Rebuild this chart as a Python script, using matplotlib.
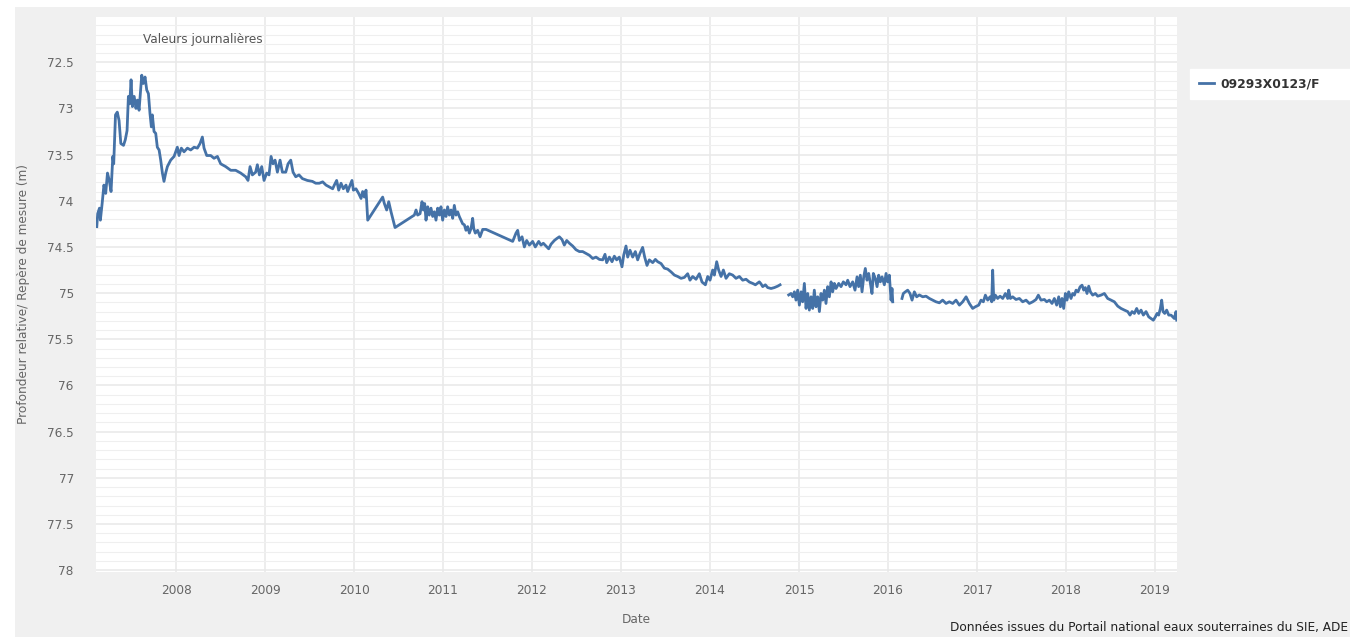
import numpy as np
import matplotlib
matplotlib.use('Agg')
import matplotlib.pyplot as plt
from matplotlib import ticker
from matplotlib.patches import Rectangle
from matplotlib.lines import Line2D

# Serie 1 : 2007 -> fin 2014 (avant la lacune)
annees_1 = [2007.11, 2007.12, 2007.14, 2007.15, 2007.17, 2007.19, 2007.21, 2007.23, 2007.25, 2007.27,
            2007.29, 2007.30, 2007.32, 2007.34, 2007.36, 2007.38, 2007.41, 2007.43, 2007.45, 2007.465,
            2007.48, 2007.495, 2007.51, 2007.53, 2007.55, 2007.566, 2007.585, 2007.603, 2007.615, 2007.633,
            2007.652, 2007.671, 2007.69, 2007.708, 2007.723, 2007.734, 2007.753, 2007.772, 2007.79, 2007.81,
            2007.828, 2007.847, 2007.865, 2007.884, 2007.903, 2007.94, 2007.978, 2008.015, 2008.034, 2008.06,
            2008.09, 2008.128, 2008.165, 2008.203, 2008.24, 2008.27, 2008.296, 2008.315, 2008.345, 2008.39,
            2008.427, 2008.465, 2008.502, 2008.558, 2008.615, 2008.67, 2008.727, 2008.783, 2008.809, 2008.832,
            2008.858, 2008.895, 2008.914, 2008.937, 2008.963, 2008.989, 2009.019, 2009.045, 2009.068, 2009.09,
            2009.113, 2009.139, 2009.169, 2009.195, 2009.233, 2009.259, 2009.289, 2009.315, 2009.345, 2009.382,
            2009.42, 2009.476, 2009.532, 2009.57,
            2009.61, 2009.648, 2009.685, 2009.723, 2009.76, 2009.779, 2009.805, 2009.828, 2009.854, 2009.88,
            2009.91, 2009.929, 2009.948, 2009.977, 2009.993, 2010.022, 2010.052, 2010.079, 2010.097, 2010.116,
            2010.135, 2010.154, 2010.322, 2010.341, 2010.367, 2010.39, 2010.416, 2010.461, 2010.678, 2010.697,
            2010.715, 2010.742, 2010.764, 2010.779, 2010.794, 2010.809, 2010.828, 2010.846, 2010.865, 2010.884,
            2010.903, 2010.921, 2010.94, 2010.959, 2010.977, 2010.996, 2011.015, 2011.034, 2011.052, 2011.071,
            2011.09, 2011.109, 2011.127, 2011.146, 2011.165, 2011.183, 2011.202, 2011.221, 2011.24, 2011.258,
            2011.277, 2011.296, 2011.315, 2011.333, 2011.345, 2011.363, 2011.389, 2011.416, 2011.446, 2011.483,
            2011.783, 2011.82, 2011.839, 2011.858, 2011.888, 2011.914, 2011.94, 2011.97, 2012.007, 2012.037,
            2012.075, 2012.101, 2012.127, 2012.157, 2012.187, 2012.214, 2012.251, 2012.277, 2012.307, 2012.337,
            2012.363, 2012.39, 2012.42, 2012.457, 2012.494, 2012.532, 2012.569, 2012.607, 2012.644, 2012.682,
            2012.719, 2012.757, 2012.794, 2012.82, 2012.839, 2012.869, 2012.899, 2012.925, 2012.951, 2012.981,
            2013.011, 2013.03, 2013.056, 2013.075, 2013.101, 2013.131, 2013.161, 2013.187, 2013.213, 2013.243,
            2013.266, 2013.292, 2013.318, 2013.356, 2013.386, 2013.412, 2013.45, 2013.487, 2013.524, 2013.562,
            2013.6, 2013.637, 2013.674, 2013.712, 2013.749, 2013.775, 2013.805, 2013.843, 2013.88, 2013.91,
            2013.948, 2013.974, 2014.0, 2014.03, 2014.049, 2014.075, 2014.097, 2014.124, 2014.15, 2014.18,
            2014.217, 2014.255, 2014.292, 2014.33, 2014.367, 2014.405, 2014.442, 2014.48, 2014.51,
            2014.554, 2014.573, 2014.592, 2014.622, 2014.648, 2014.686, 2014.723, 2014.76, 2014.787]
profondeur_1 = [74.28, 74.14, 74.08, 74.21, 74.03, 73.83, 73.92, 73.70, 73.78, 73.90,
                73.52, 73.60, 73.07, 73.04, 73.13, 73.38, 73.40, 73.34, 73.24, 72.87,
                72.95, 72.69, 72.98, 72.87, 73.00, 72.91, 73.02, 72.80, 72.64, 72.73,
                72.66, 72.80, 72.84, 73.06, 73.20, 73.07, 73.25, 73.27, 73.42, 73.45,
                73.56, 73.70, 73.79, 73.70, 73.63, 73.56, 73.52, 73.42, 73.51, 73.43,
                73.47, 73.43, 73.45, 73.42, 73.43, 73.38, 73.31, 73.43, 73.51, 73.51,
                73.54, 73.52, 73.60, 73.63, 73.67, 73.67, 73.70, 73.74, 73.78, 73.63,
                73.72, 73.69, 73.61, 73.72, 73.63, 73.78, 73.70, 73.72, 73.52, 73.60,
                73.56, 73.69, 73.56, 73.69, 73.69, 73.60, 73.56, 73.69, 73.74, 73.72,
                73.76, 73.78, 73.79, 73.81,
                73.81, 73.795, 73.83, 73.85, 73.87, 73.83, 73.78, 73.885, 73.81, 73.87,
                73.83, 73.90, 73.85, 73.78, 73.885, 73.87, 73.92, 73.975, 73.90, 73.96,
                73.885, 74.21, 73.96, 74.03, 74.10, 74.01, 74.12, 74.29, 74.155, 74.10,
                74.155, 74.14, 74.01, 74.10, 74.03, 74.21, 74.065, 74.155, 74.08, 74.17,
                74.12, 74.21, 74.08, 74.155, 74.065, 74.21, 74.10, 74.17, 74.065, 74.155,
                74.10, 74.19, 74.05, 74.155, 74.12, 74.17, 74.21, 74.25, 74.26, 74.32,
                74.28, 74.35, 74.30, 74.19, 74.30, 74.35, 74.32, 74.39, 74.31, 74.31,
                74.44, 74.35, 74.32, 74.43, 74.39, 74.50, 74.43, 74.48, 74.44, 74.50,
                74.44, 74.48, 74.46, 74.49, 74.52, 74.47, 74.43, 74.41, 74.39, 74.42,
                74.48, 74.43, 74.46, 74.49, 74.53, 74.55, 74.55, 74.57, 74.59, 74.625,
                74.61, 74.635, 74.64, 74.58, 74.67, 74.61, 74.66, 74.60, 74.64, 74.61,
                74.715, 74.59, 74.49, 74.61, 74.535, 74.61, 74.55, 74.64, 74.57, 74.505,
                74.61, 74.70, 74.64, 74.67, 74.635, 74.66, 74.68, 74.73, 74.74, 74.77,
                74.805, 74.82, 74.84, 74.83, 74.79, 74.86, 74.82, 74.85, 74.79, 74.88,
                74.91, 74.82, 74.86, 74.75, 74.805, 74.66, 74.75, 74.82, 74.75, 74.84,
                74.79, 74.805, 74.84, 74.82, 74.86, 74.85, 74.88, 74.895, 74.91,
                74.878, 74.90, 74.93, 74.91, 74.94, 74.95, 74.94, 74.925, 74.91]

# Serie 2 : fin 2014 -> debut 2016
annees_2 = [2014.884, 2014.91, 2014.929, 2014.948, 2014.966, 2014.985, 2015.004, 2015.023, 2015.041, 2015.06,
            2015.079, 2015.098, 2015.116, 2015.135, 2015.154, 2015.172, 2015.191, 2015.21, 2015.229, 2015.247,
            2015.266, 2015.285, 2015.303, 2015.322, 2015.341, 2015.36, 2015.378, 2015.397, 2015.416, 2015.446,
            2015.472, 2015.498, 2015.528, 2015.547, 2015.573, 2015.603, 2015.629, 2015.652, 2015.67, 2015.689,
            2015.708, 2015.727, 2015.745, 2015.764, 2015.783, 2015.802, 2015.82, 2015.835, 2015.858, 2015.877,
            2015.895, 2015.914, 2015.933, 2015.959, 2015.978, 2015.996, 2016.015, 2016.034, 2016.045, 2016.053]
profondeur_2 = [75.02, 75.004, 75.04, 74.986, 75.076, 74.968, 75.13, 74.986, 75.094, 74.895,
                75.166, 75.004, 75.184, 75.04, 75.166, 74.968, 75.148, 75.04, 75.20, 75.004,
                75.076, 74.968, 75.112, 74.93, 75.04, 74.878, 74.986, 74.895, 74.95, 74.895,
                74.93, 74.878, 74.91, 74.86, 74.93, 74.878, 74.968, 74.824, 74.93, 74.806,
                74.986, 74.824, 74.733, 74.86, 74.787, 74.895, 75.004, 74.787, 74.842, 74.93,
                74.806, 74.878, 74.824, 74.91, 74.787, 74.878, 74.806, 75.076, 74.95, 75.094]

# Serie 3 : 2016 -> 2019
annees_3 = [2016.157, 2016.172, 2016.195, 2016.221, 2016.247, 2016.27, 2016.296, 2016.322, 2016.352, 2016.39,
            2016.427, 2016.465, 2016.502, 2016.539, 2016.577, 2016.614, 2016.652, 2016.689, 2016.727, 2016.764,
            2016.802, 2016.839, 2016.877, 2016.914, 2016.951, 2016.981,
            2017.019, 2017.045, 2017.071, 2017.094, 2017.12, 2017.146, 2017.165, 2017.176, 2017.188, 2017.206,
            2017.232, 2017.259, 2017.289, 2017.319, 2017.345, 2017.356, 2017.375, 2017.401, 2017.438, 2017.476,
            2017.513, 2017.551, 2017.588, 2017.626, 2017.663, 2017.689, 2017.719, 2017.757, 2017.783, 2017.813,
            2017.843, 2017.869, 2017.895, 2017.918, 2017.937, 2017.955, 2017.974, 2017.993, 2018.011, 2018.03,
            2018.056, 2018.075, 2018.094, 2018.113, 2018.135, 2018.158, 2018.18, 2018.199, 2018.217, 2018.236,
            2018.255, 2018.274, 2018.3, 2018.33, 2018.356, 2018.393, 2018.431, 2018.468, 2018.506, 2018.543,
            2018.581, 2018.618, 2018.656, 2018.693, 2018.719, 2018.742, 2018.768, 2018.794, 2018.817, 2018.843,
            2018.869, 2018.899, 2018.929, 2018.955, 2018.981, 2019.004, 2019.023, 2019.041, 2019.06, 2019.075,
            2019.09, 2019.109, 2019.131, 2019.154, 2019.18, 2019.199, 2019.217, 2019.236, 2019.244]
profondeur_3 = [75.058, 75.004, 74.986, 74.968, 75.004, 75.076, 74.986, 75.04, 75.02, 75.04,
                75.033, 75.058, 75.076, 75.094, 75.105, 75.076, 75.112, 75.094, 75.112, 75.076,
                75.13, 75.094, 75.04, 75.112, 75.166, 75.148,
                75.13, 75.076, 75.094, 75.022, 75.076, 75.04, 75.094, 74.751, 75.076, 75.022,
                75.058, 75.033, 75.058, 75.004, 75.058, 74.968, 75.058, 75.04, 75.069, 75.058,
                75.094, 75.076, 75.112, 75.094, 75.069, 75.022, 75.076, 75.069, 75.094, 75.076,
                75.112, 75.058, 75.13, 75.04, 75.148, 75.058, 75.166, 75.004, 75.076, 74.986,
                75.058, 75.004, 75.022, 74.968, 74.986, 74.932, 74.914, 74.968, 74.94, 75.004,
                74.925, 74.986, 75.022, 75.004, 75.033, 75.022, 75.004, 75.058, 75.076, 75.094,
                75.141, 75.166, 75.184, 75.20, 75.238, 75.20, 75.22, 75.166, 75.22, 75.184,
                75.238, 75.20, 75.257, 75.275, 75.293, 75.257, 75.22, 75.238, 75.166, 75.076,
                75.20, 75.22, 75.184, 75.238, 75.238, 75.257, 75.275, 75.20, 75.293]

annees_ticks = list(range(2008, 2020))
prof_ticks = [72.5, 73, 73.5, 74, 74.5, 75, 75.5, 76, 76.5, 77, 77.5, 78]

nom_station = '09293X0123/F'
couleur = '#4572A7'

fig = plt.figure(figsize=(13.5, 6.37), dpi=100, facecolor='white')
# fond gris du cadre (derriere les axes)
fond = Rectangle((15 / 1350, 0), 1 - 15 / 1350, 1 - 7 / 637,
                 transform=fig.transFigure, facecolor='#f0f0f0', edgecolor='none', zorder=-10)
fig.add_artist(fond)

ax = fig.add_axes([96 / 1350, 1 - 572 / 637, (1177 - 96) / 1350, (572 - 17) / 637])
ax.set_zorder(1)
ax.set_facecolor('white')

for x, y in [(annees_1, profondeur_1), (annees_2, profondeur_2), (annees_3, profondeur_3)]:
    ax.plot(x, y, color=couleur, lw=2.0, solid_joinstyle='round')

ax.set_xlim(2007.101, 2019.247)
ax.set_ylim(78.02, 72.01)

ax.set_xticks(annees_ticks)
ax.set_xticklabels([str(a) for a in annees_ticks])
ax.set_yticks(prof_ticks)
ax.yaxis.set_major_formatter(ticker.FormatStrFormatter('%g'))
ax.yaxis.set_minor_locator(ticker.MultipleLocator(0.1))

ax.grid(which='major', axis='both', color='#e8e8e8', lw=1.1)
ax.grid(which='minor', axis='y', color='#efefef', lw=0.8)
ax.set_axisbelow(True)
for s in ax.spines.values():
    s.set_visible(False)

ax.tick_params(axis='both', which='both', length=0, colors='#666666', labelsize=8.7)
ax.tick_params(axis='y', pad=16)
ax.tick_params(axis='x', pad=9)

ax.set_xlabel('Date', color='#666666', fontsize=8.7, labelpad=11)
ax.set_ylabel('Profondeur relative/ Repère de mesure (m)', color='#666666', fontsize=8.7, labelpad=12)

fig.text(203 / 1350, 1 - 39 / 637, 'Valeurs journalières', ha='center', va='center',
         fontsize=8.7, color='#555555')

# legende
poignee = Line2D([], [], color=couleur, lw=2.0)
leg = fig.legend([poignee], [nom_station], loc='upper left',
                 bbox_to_anchor=(1190 / 1350, 1 - 100 / 637, 160 / 1350, 31 / 637), mode='expand',
                 frameon=True, fancybox=False, facecolor='white', edgecolor='white',
                 handlelength=1.3, handletextpad=0.5, borderpad=0.7, borderaxespad=0,
                 prop={'size': 8.8, 'weight': 'bold'})
leg.get_frame().set_alpha(1)
for t in leg.get_texts():
    t.set_color('#333333')

fig.text(1348 / 1350, 1 - 628 / 637, 'Données issues du Portail national eaux souterraines du SIE, ADE',
         ha='right', va='center', fontsize=8.7, color='#222222')

plt.savefig('out.png', dpi=100, facecolor=fig.get_facecolor())
